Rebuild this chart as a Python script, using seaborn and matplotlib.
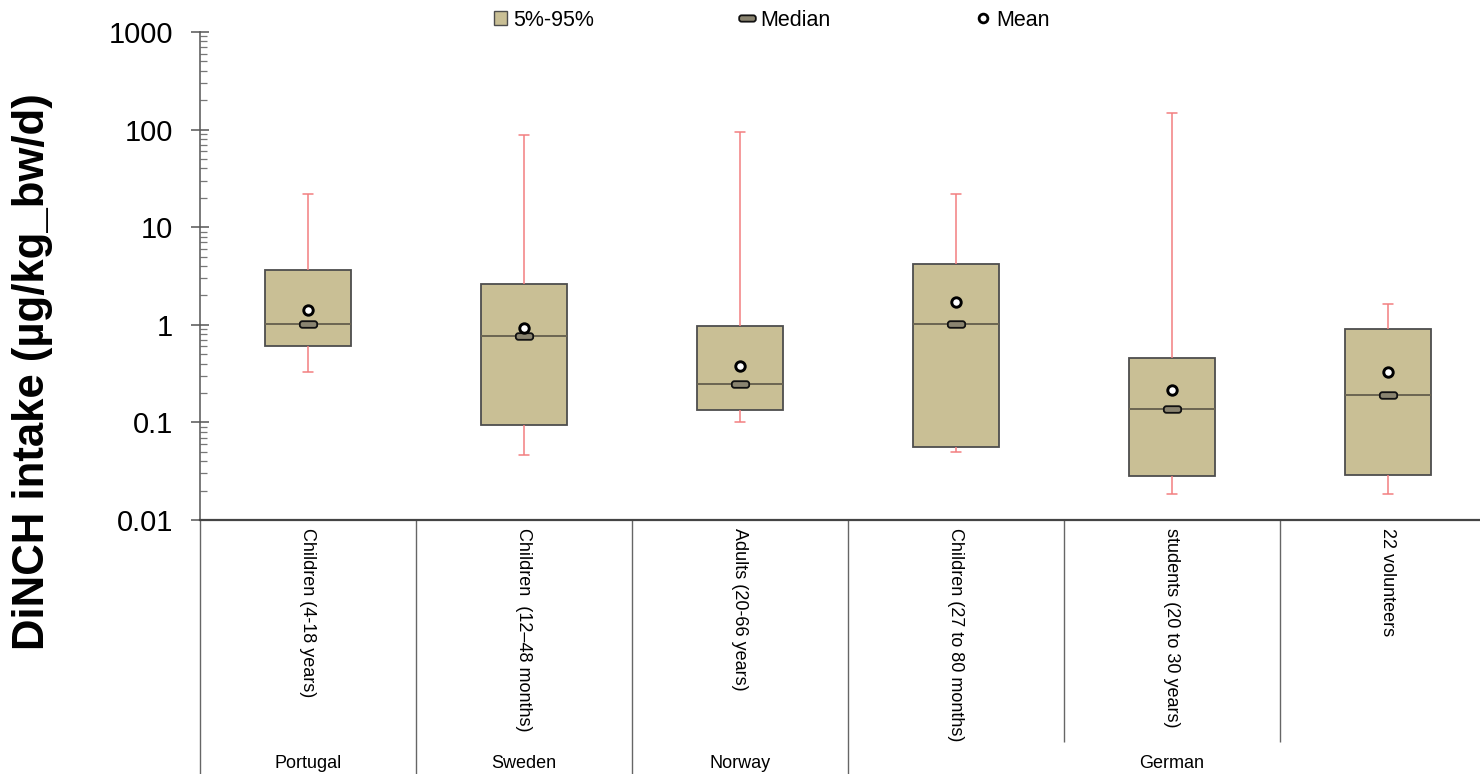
import numpy as np
import pandas as pd
import matplotlib
matplotlib.use("Agg")
import matplotlib.pyplot as plt
from matplotlib.markers import MarkerStyle
from matplotlib.patches import Patch, FancyBboxPatch
from matplotlib.lines import Line2D
from matplotlib.ticker import LogLocator, NullFormatter
import seaborn as sns

# ---- data (µg/kg bw/day) ----
countries = ["Portugal", "Sweden", "Norway", "German"]
country_span = [1, 1, 1, 3]            # number of populations per country
populations = [
    "Children (4-18 years)",
    "Children  (12\u201348 months)",
    "Adults (20-66 years)",
    "Children (27 to 80 months)",
    "students (20 to 30 years)",
    "22 volunteers",
]
minimum = [0.33, 0.046, 0.102, 0.050, 0.0186, 0.0186]
p5 = [0.60, 0.094, 0.134, 0.056, 0.028, 0.029]
median = [1.02, 0.77, 0.246, 1.02, 0.138, 0.19]
p95 = [3.64, 2.62, 0.97, 4.2, 0.46, 0.90]
maximum = [22, 88, 95, 22, 147, 1.63]
mean = [1.42, 0.93, 0.38, 1.70, 0.213, 0.33]

y_ticks = [0.01, 0.1, 1, 10, 100, 1000]
y_tick_labels = ["0.01", "0.1", "1", "10", "100", "1000"]

# ---- styling ----
sns.set_style("ticks")
plt.rcParams["font.family"] = ["Liberation Sans", "DejaVu Sans"]
plt.rcParams["text.color"] = "black"
plt.rcParams["axes.labelcolor"] = "black"
plt.rcParams["xtick.color"] = "black"
plt.rcParams["ytick.color"] = "black"

BOX_FILL = "#C9BF95"
BOX_EDGE = "#4d4d4d"
WHISKER = "#F27F80"
MEDIAN_LINE = "#6b6552"
MEDIAN_MARK = "#8a8470"

fig = plt.figure(figsize=(14.8, 7.74), dpi=100)
ax = fig.add_axes([200 / 1480, 1 - 520 / 774, 1280 / 1480, 488 / 774])

# each population is described by its five summary values; with whis=(0, 100)
# the box spans p5..p95 and the whiskers reach the extremes
box_df = pd.DataFrame({
    "population": np.repeat(populations, 5),
    "intake": np.column_stack([minimum, p5, median, p95, maximum]).ravel(),
})
summary_df = pd.DataFrame({"population": populations, "median": median, "mean": mean})

sns.boxplot(
    data=box_df, x="population", y="intake", order=populations,
    whis=(0, 100), width=0.4, log_scale=True,
    color=BOX_FILL, linecolor=BOX_EDGE, linewidth=1.3, saturation=1,
    whiskerprops=dict(color=WHISKER, linewidth=1.1),
    capprops=dict(color=WHISKER, linewidth=1.1),
    medianprops=dict(color=MEDIAN_LINE, linewidth=1.4),
    capwidths=0.05, showfliers=False, ax=ax,
)

# rounded-rectangle marker for the median
_rr = FancyBboxPatch((-1, -0.38), 2, 0.76,
                     boxstyle="round,pad=0,rounding_size=0.3").get_path()
median_marker = MarkerStyle(_rr)

sns.pointplot(
    data=summary_df, x="population", y="median", order=populations,
    errorbar=None, marker=median_marker, linestyle="none",
    color="black", markersize=12.5, markeredgewidth=1.3,
    markerfacecolor=MEDIAN_MARK, markeredgecolor="#111111",
    zorder=5, ax=ax,
)
sns.pointplot(
    data=summary_df, x="population", y="mean", order=populations,
    errorbar=None, marker="o", linestyle="none",
    color="black", markersize=6.8, markeredgewidth=2.1,
    markerfacecolor="white", markeredgecolor="black",
    zorder=6, ax=ax,
)

# ---- axes ----
ax.set_yscale("log")
ax.set_ylim(0.01, 1000)
ax.set_xlim(-0.5, 5.426)
ax.set_yticks(y_ticks, labels=y_tick_labels)
ax.yaxis.set_minor_locator(LogLocator(base=10, subs=np.arange(2, 10)))
ax.yaxis.set_minor_formatter(NullFormatter())
ax.tick_params(axis="y", which="major", direction="inout", length=13, width=1.1,
               color="#555555", labelcolor="black", labelsize=21, pad=13)
ax.tick_params(axis="y", which="minor", direction="in", length=5, width=0.9,
               color="#777777")
ax.set_ylabel("")
ax.set_xlabel("")
for s in ("top", "right"):
    ax.spines[s].set_visible(False)
ax.spines["left"].set_color("#555555")
ax.spines["left"].set_linewidth(1.1)
ax.spines["bottom"].set_color("#444444")
ax.spines["bottom"].set_linewidth(1.6)

# population labels below the axis, read top to bottom
ax.set_xticks(range(len(populations)))
ax.set_xticklabels(populations, rotation=270, fontsize=13, va="top", ha="center",
                   color="black")
ax.tick_params(axis="x", length=0, pad=6)

# category separators and country labels in the table beneath the axis
trans = ax.get_xaxis_transform()
ax_h = 488
bottom_full = -(774 - 520) / ax_h
bottom_inner = -(742 - 520) / ax_h
edges = np.cumsum([0] + country_span) - 0.5
ax.vlines(edges[:-1], bottom_full, 0, transform=trans, clip_on=False,
          color="#666666", linewidth=1.0)
start = 0
for name, span in zip(countries, country_span):
    if span > 1:
        inner = np.arange(start + 1, start + span) - 0.5
        ax.vlines(inner, bottom_inner, 0, transform=trans, clip_on=False,
                  color="#666666", linewidth=1.0)
    ax.text(start + (span - 1) / 2, -(763 - 520) / ax_h, name, transform=trans,
            ha="center", va="center", fontsize=13, color="black")
    start += span

# y-axis title
fig.text(33 / 1480, 1 - 372 / 774, "DiNCH intake (\u00b5g/kg_bw/d)", rotation=90,
         ha="center", va="center", fontsize=31.5, fontweight="bold", color="black")

# legend along the top
handles = [
    Patch(facecolor=BOX_FILL, edgecolor=BOX_EDGE, linewidth=1.0),
    Line2D([], [], linestyle="none", marker=median_marker, markersize=12,
           markerfacecolor=MEDIAN_MARK, markeredgecolor="#111111", markeredgewidth=1.3),
    Line2D([], [], linestyle="none", marker="o", markersize=6.3,
           markerfacecolor="white", markeredgecolor="black", markeredgewidth=2.0),
]
fig.legend(handles, ["5%-95%", "Median", "Mean"], loc="center",
           bbox_to_anchor=(772 / 1480, 1 - 20 / 774), ncol=3, frameon=False,
           fontsize=15.5, handlelength=0.6, handleheight=0.6, handletextpad=0.3,
           columnspacing=6.8, borderpad=0, labelcolor="black")

fig.savefig("out.png", dpi=100)
